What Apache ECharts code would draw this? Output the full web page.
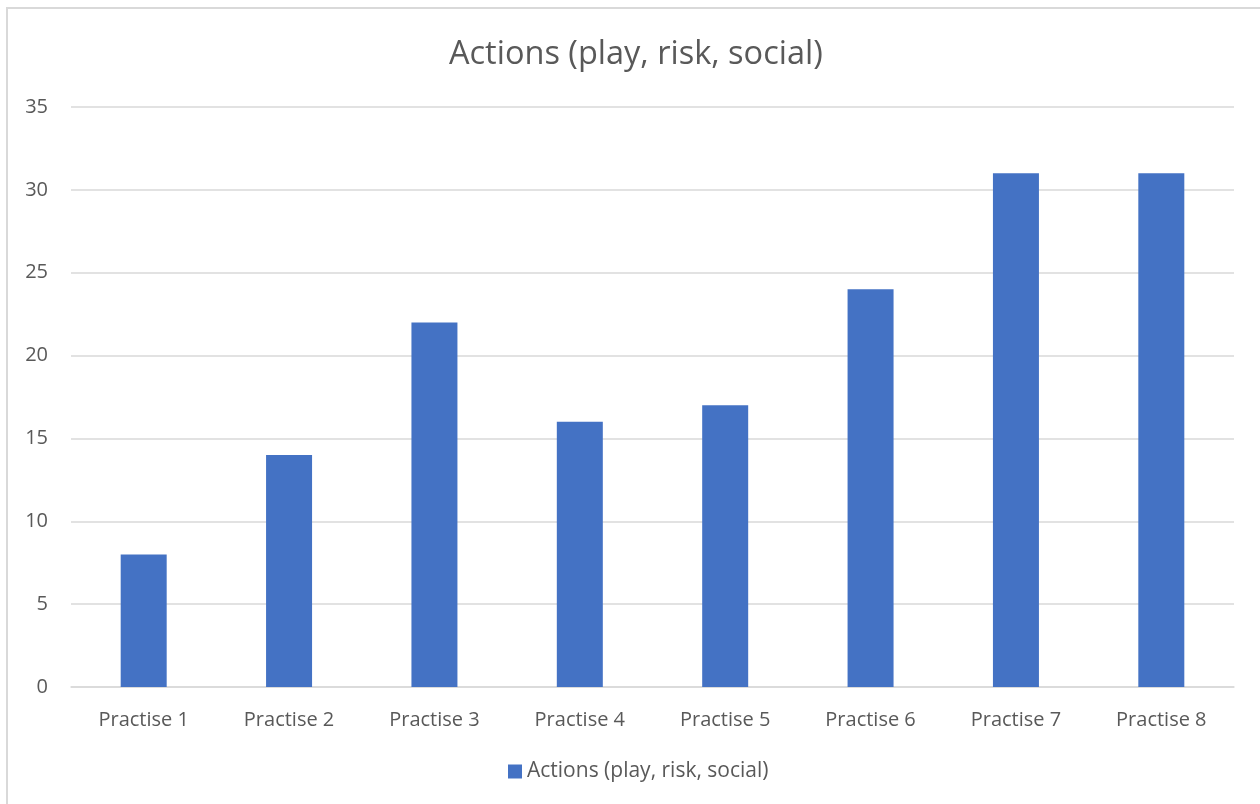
<!DOCTYPE html>
<html>
<head>
<meta charset="utf-8">
<script src="https://cdn.jsdelivr.net/npm/echarts@6/dist/echarts.min.js"></script>
<style>
  html, body { margin: 0; padding: 0; background: #fff; }
  #main { width: 1260px; height: 804px; }
</style>
</head>
<body>
<div id="main"></div>
<script>
  // chart data
  const categories = ['Practise 1', 'Practise 2', 'Practise 3', 'Practise 4', 'Practise 5', 'Practise 6', 'Practise 7', 'Practise 8'];
  const actions = [8, 14, 22, 16, 17, 24, 31, 31];
  const seriesName = 'Actions (play, risk, social)';

  const font = '"Open Sans", "Noto Sans", sans-serif';
  let myChart = echarts.init(document.getElementById('main'));
  let option = {
    backgroundColor: '#fff',
    animation: false,
    title: {
      text: seriesName,
      left: 444,
      top: 33,
      textStyle: { fontFamily: font, fontSize: 32.5, fontWeight: 'normal', color: '#595959' }
    },
    // outer chart border
    graphic: [{
      type: 'rect',
      shape: { x: 7, y: 8, width: 1300, height: 850 },
      style: { fill: 'none', stroke: '#d9d9d9', lineWidth: 2 },
      silent: true
    }],
    legend: {
      bottom: 17,
      left: 503,
      icon: 'rect',
      itemWidth: 14,
      itemHeight: 14,
      itemGap: 6,
      textStyle: { fontFamily: font, fontSize: 21, color: '#595959' },
      data: [seriesName]
    },
    grid: { left: 71, right: 26, top: 107, bottom: 117, containLabel: false },
    xAxis: {
      type: 'category',
      data: categories,
      axisLine: { lineStyle: { color: '#d9d9d9', width: 1.5 } },
      axisTick: { show: false },
      axisLabel: { fontFamily: font, fontSize: 20, color: '#595959', margin: 23 }
    },
    yAxis: {
      type: 'value',
      min: 0,
      max: 35,
      interval: 5,
      axisLine: { show: false },
      axisTick: { show: false },
      splitLine: { lineStyle: { color: '#d9d9d9', width: 1.5 } },
      axisLabel: { fontFamily: font, fontSize: 20, color: '#595959', margin: 23 }
    },
    series: [{
      name: seriesName,
      type: 'bar',
      data: actions,
      barWidth: 46,
      itemStyle: { color: '#4472c4' }
    }]
  };
  myChart.setOption(option);
</script>
</body>
</html>
